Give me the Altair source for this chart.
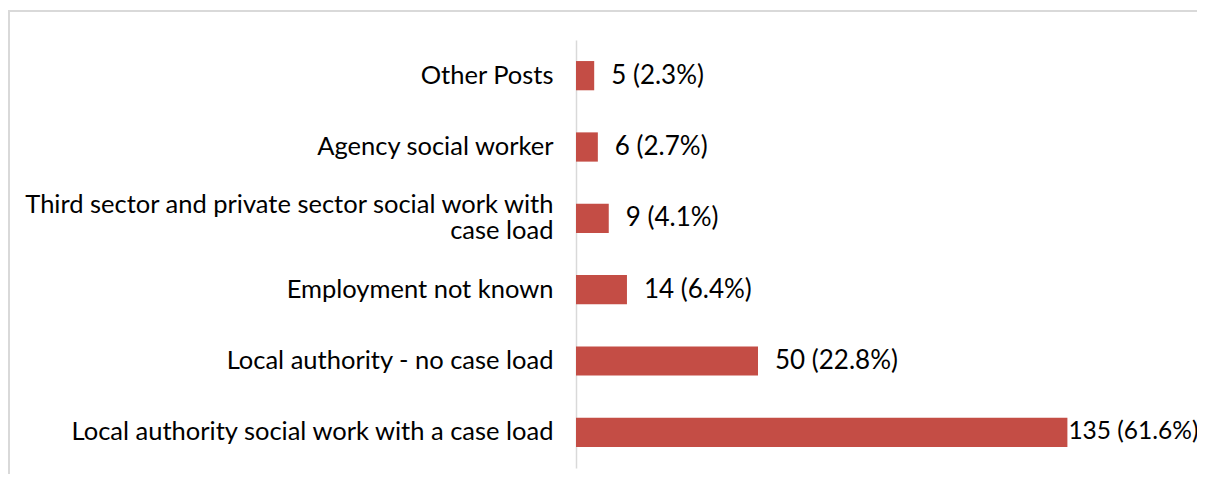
import altair as alt
import pandas as pd

categories = [
    "Other Posts",
    "Agency social worker",
    "Third sector and private sector social work with\ncase load",
    "Employment not known",
    "Local authority - no case load",
    "Local authority social work with a case load",
]
counts = [5, 6, 9, 14, 50, 135]
percents = [2.3, 2.7, 4.1, 6.4, 22.8, 61.6]

labels = [f"{c} ({p}%)" for c, p in zip(counts, percents)]
df = pd.DataFrame({"category": categories, "count": counts, "label": labels})

FONT = "Lato"
BAR = "#C44D45"
GRID = "#D9D9D9"

y_enc = alt.Y(
    "category:N",
    sort=None,
    title=None,
    scale=alt.Scale(paddingInner=0.59, paddingOuter=0.295),
    axis=alt.Axis(
        labelExpr="split(datum.label, '\\n')",
        labelFont=FONT,
        labelFontSize=25.5,
        labelColor="#000000",
        labelPadding=23,
        labelLimit=600,
        labelLineHeight=26,
        labelOffset={
            "condition": {"test": "indexof(datum.value, '\\n') >= 0", "value": -13},
            "value": 0,
        },
        ticks=False,
        domainColor=GRID,
        domainWidth=1.5,
    ),
)
x_enc = alt.X(
    "count:Q",
    scale=alt.Scale(domain=[0, 150]),
    axis=None,
)

base = alt.Chart(df)
bars = base.mark_bar(color=BAR).encode(x=x_enc, y=y_enc)
text_small = base.mark_text(
    align="left", baseline="middle", dx=17, font=FONT, fontSize=26, color="#000000"
).encode(x=x_enc, y=y_enc, text="label:N").transform_filter("datum.count < 100")
text_big = base.mark_text(
    align="left", baseline="middle", dx=1, font=FONT, fontSize=24.5, color="#000000"
).encode(x=x_enc, y=y_enc, text="label:N").transform_filter("datum.count >= 100")

frame_df = pd.DataFrame({"k": [0]})
top_line = alt.Chart(frame_df).mark_rule(color=GRID, strokeWidth=2).encode(
    x=alt.value(-567), x2=alt.value(640), y=alt.value(-29)
)
left_line = alt.Chart(frame_df).mark_rule(color=GRID, strokeWidth=2).encode(
    x=alt.value(-567), y=alt.value(-30), y2=alt.value(450)
)

chart = alt.layer(top_line, left_line, bars, text_small, text_big).properties(
    width=546,
    height=428,
    autosize=alt.AutoSizeParams(type="none"),
    padding={"left": 568, "top": 32, "right": 75, "bottom": 6},
).configure_view(stroke=None)

chart.save("out.html", embed_options={"renderer": "svg", "actions": False})
